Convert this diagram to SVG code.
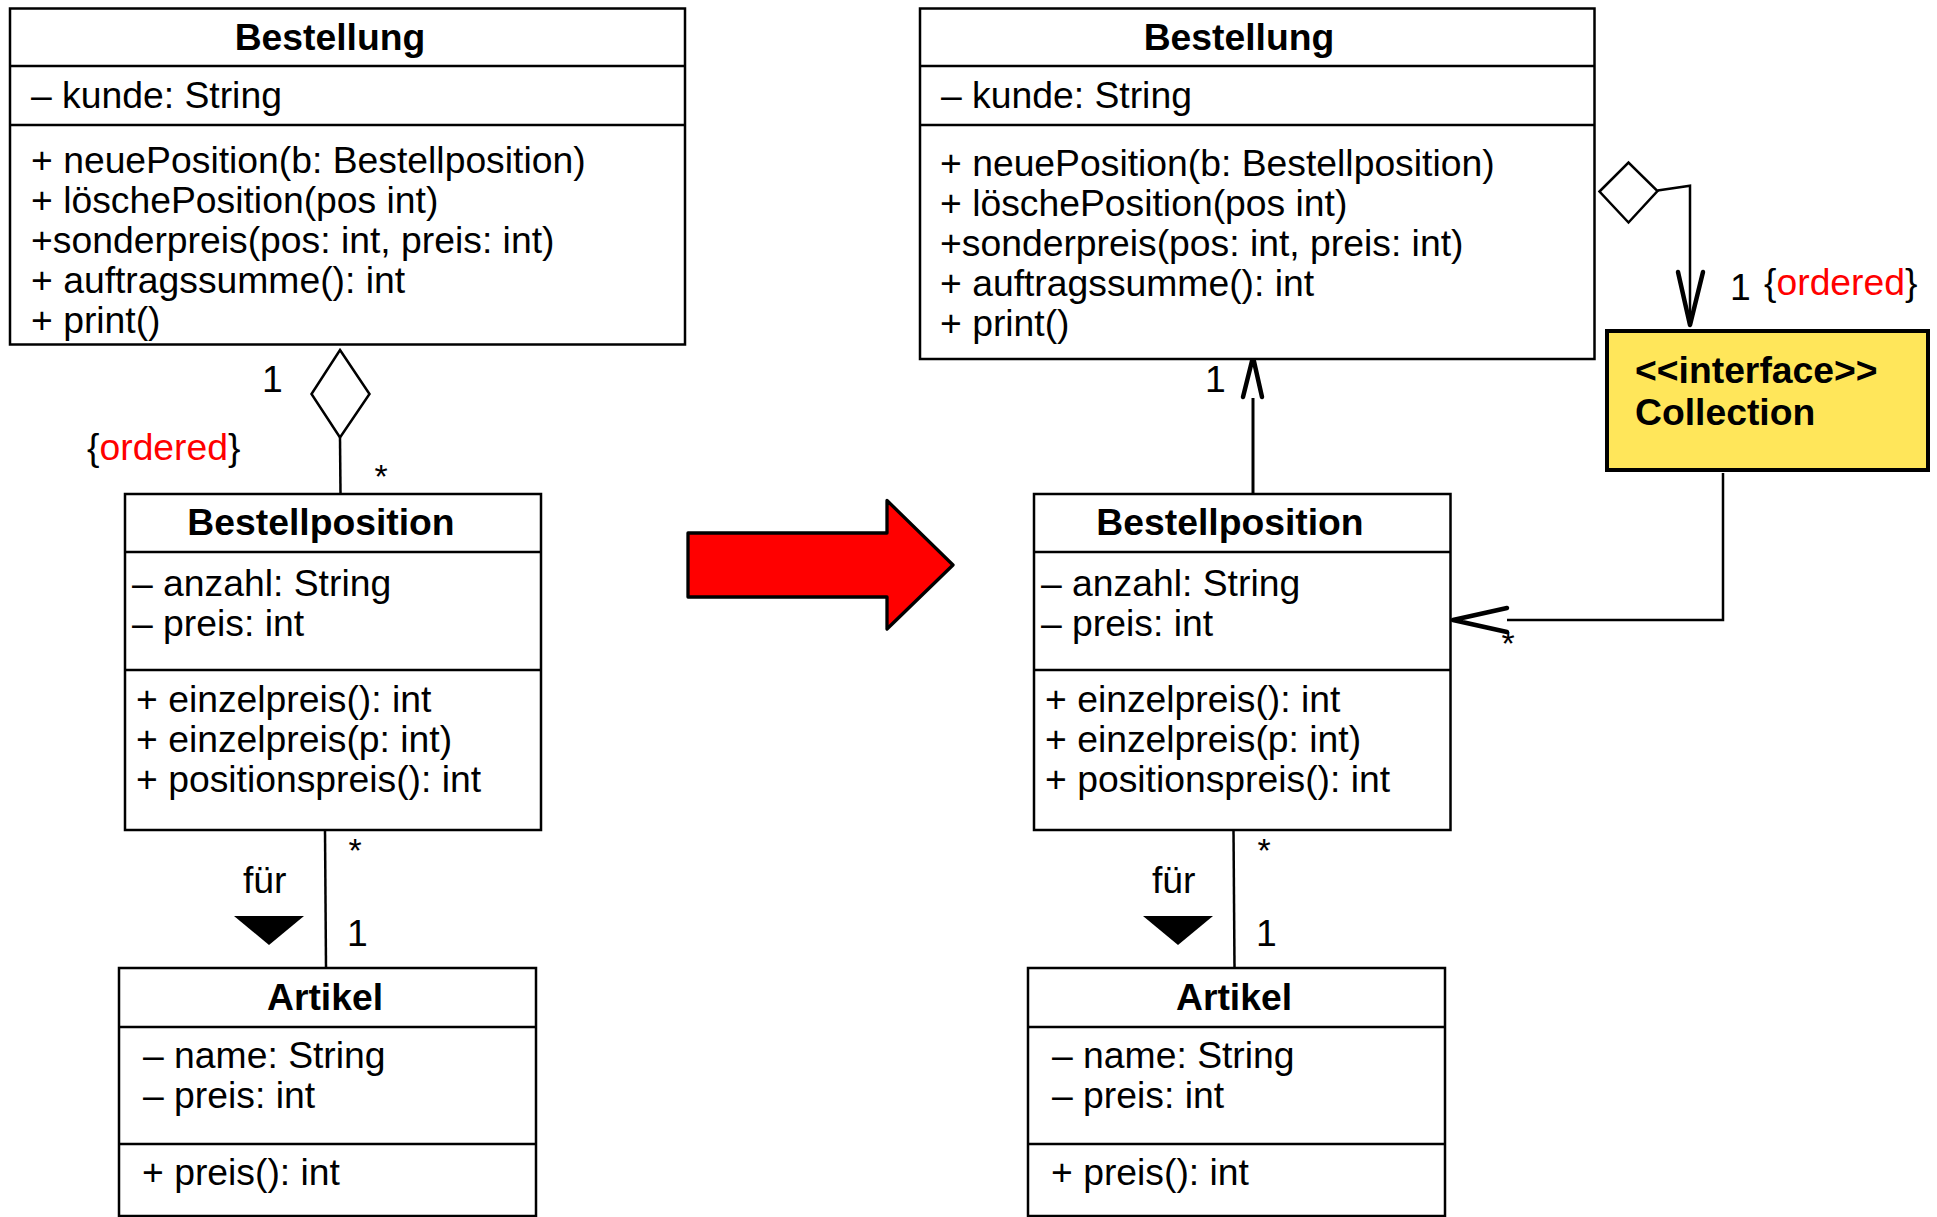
<svg xmlns="http://www.w3.org/2000/svg" width="1937" height="1217" viewBox="0 0 1937 1217">
<style>
text{font-family:"Liberation Sans",Arial,sans-serif;font-size:37.3px;fill:#000}
.b{font-weight:bold}
.m{text-anchor:middle}
.r{fill:#FF0000}
.star{font-size:34px}
.box{fill:#fff;stroke:#000;stroke-width:2.5}
.sep{stroke:#000;stroke-width:2.5;fill:none}
.ln{stroke:#000;stroke-width:2.5;fill:none}
.head{stroke:#000;stroke-width:4.5;fill:none;stroke-linecap:round;stroke-linejoin:round}
</style>
<rect width="1937" height="1217" fill="#fff"/>

<g id="connectors">
  <!-- left aggregation -->
  <polygon points="340,350 369.5,394 340,437.5 311.5,394" fill="#fff" stroke="#000" stroke-width="2.5"/>
  <line class="ln" x1="340" y1="437.5" x2="340.5" y2="494"/>
  <text x="262" y="392">1</text>
  <text x="87" y="460">{<tspan class="r">ordered</tspan>}</text>
  <text class="star m" x="381" y="488">*</text>
  <!-- left für -->
  <line class="ln" x1="325" y1="830" x2="326" y2="968"/>
  <text class="star m" x="355" y="862">*</text>
  <text x="243" y="893">für</text>
  <polygon points="234,916 304,916 269,945" fill="#000"/>
  <text x="347" y="946">1</text>
  <!-- right für -->
  <line class="ln" x1="1233.5" y1="830" x2="1234.5" y2="968"/>
  <text class="star m" x="1264" y="862">*</text>
  <text x="1152" y="893">für</text>
  <polygon points="1143,916 1213,916 1178,945" fill="#000"/>
  <text x="1256" y="946">1</text>
  <!-- up arrow to Bestellung -->
  <line x1="1253" y1="494" x2="1253" y2="398" stroke="#000" stroke-width="3"/>
  <polyline class="head" points="1243,397 1253,357 1262,397"/>
  <text x="1205" y="392">1</text>
  <!-- right aggregation to Collection -->
  <polygon points="1599.5,191.5 1628.5,162.5 1657.5,191 1628.5,222.5" fill="#fff" stroke="#000" stroke-width="2.5"/>
  <polyline class="ln" points="1657.5,190.5 1690,185.7 1690,325"/>
  <polyline class="head" points="1678,272 1690,325 1703,272"/>
  <text x="1730" y="300">1</text>
  <text x="1764" y="295">{<tspan class="r">ordered</tspan>}</text>
  <!-- Collection to Bestellposition -->
  <polyline class="ln" points="1723,473 1723,620 1507,620"/>
  <polyline class="head" points="1507,608 1453,620 1507,632"/>
  <text class="star m" x="1508" y="655">*</text>
</g>

<g id="transform-arrow">
  <polygon points="688,533 887,533 887,500.5 953,565 887,629 887,597 688,597" fill="#FF0000" stroke="#000" stroke-width="3.3" stroke-linejoin="round"/>
</g>

<g id="bestellung-left">
  <rect class="box" x="10" y="8.5" width="675" height="336"/>
  <line class="sep" x1="10" y1="66" x2="685" y2="66"/>
  <line class="sep" x1="10" y1="125" x2="685" y2="125"/>
  <text class="b m" x="330" y="50">Bestellung</text>
  <text x="31" y="108">– kunde: String</text>
  <text x="31" y="173">+ neuePosition(b: Bestellposition)</text>
  <text x="31" y="213">+ löschePosition(pos int)</text>
  <text x="31" y="253">+sonderpreis(pos: int, preis: int)</text>
  <text x="31" y="293">+ auftragssumme(): int</text>
  <text x="31" y="333">+ print()</text>
</g>

<g id="bestellposition-left">
  <rect class="box" x="125" y="494" width="416" height="336"/>
  <line class="sep" x1="125" y1="552" x2="541" y2="552"/>
  <line class="sep" x1="125" y1="670" x2="541" y2="670"/>
  <text class="b m" x="321" y="535">Bestellposition</text>
  <text x="132" y="596">– anzahl: String</text>
  <text x="132" y="636">– preis: int</text>
  <text x="136" y="712">+ einzelpreis(): int</text>
  <text x="136" y="752">+ einzelpreis(p: int)</text>
  <text x="136" y="792">+ positionspreis(): int</text>
</g>

<g id="artikel-left">
  <rect class="box" x="119" y="968" width="417" height="248"/>
  <line class="sep" x1="119" y1="1027" x2="536" y2="1027"/>
  <line class="sep" x1="119" y1="1144" x2="536" y2="1144"/>
  <text class="b m" x="325" y="1010">Artikel</text>
  <text x="143" y="1068">– name: String</text>
  <text x="143" y="1108">– preis: int</text>
  <text x="142" y="1185">+ preis(): int</text>
</g>

<g id="bestellung-right">
  <rect class="box" x="920" y="8.5" width="674.5" height="350.5"/>
  <line class="sep" x1="920" y1="66" x2="1594.5" y2="66"/>
  <line class="sep" x1="920" y1="125" x2="1594.5" y2="125"/>
  <text class="b m" x="1239" y="50">Bestellung</text>
  <text x="941" y="108">– kunde: String</text>
  <text x="940" y="176">+ neuePosition(b: Bestellposition)</text>
  <text x="940" y="216">+ löschePosition(pos int)</text>
  <text x="940" y="256">+sonderpreis(pos: int, preis: int)</text>
  <text x="940" y="296">+ auftragssumme(): int</text>
  <text x="940" y="336">+ print()</text>
</g>

<g id="bestellposition-right">
  <rect class="box" x="1034" y="494" width="416.5" height="336"/>
  <line class="sep" x1="1034" y1="552" x2="1450.5" y2="552"/>
  <line class="sep" x1="1034" y1="670" x2="1450.5" y2="670"/>
  <text class="b m" x="1230" y="535">Bestellposition</text>
  <text x="1041" y="596">– anzahl: String</text>
  <text x="1041" y="636">– preis: int</text>
  <text x="1045" y="712">+ einzelpreis(): int</text>
  <text x="1045" y="752">+ einzelpreis(p: int)</text>
  <text x="1045" y="792">+ positionspreis(): int</text>
</g>

<g id="artikel-right">
  <rect class="box" x="1028" y="968" width="417" height="248"/>
  <line class="sep" x1="1028" y1="1027" x2="1445" y2="1027"/>
  <line class="sep" x1="1028" y1="1144" x2="1445" y2="1144"/>
  <text class="b m" x="1234" y="1010">Artikel</text>
  <text x="1052" y="1068">– name: String</text>
  <text x="1052" y="1108">– preis: int</text>
  <text x="1051" y="1185">+ preis(): int</text>
</g>

<g id="collection">
  <rect x="1607" y="331" width="321" height="139" fill="#FFE65A" stroke="#000" stroke-width="4"/>
  <text class="b" x="1635" y="383">&lt;&lt;interface&gt;&gt;</text>
  <text class="b" x="1635" y="425">Collection</text>
</g>
</svg>
